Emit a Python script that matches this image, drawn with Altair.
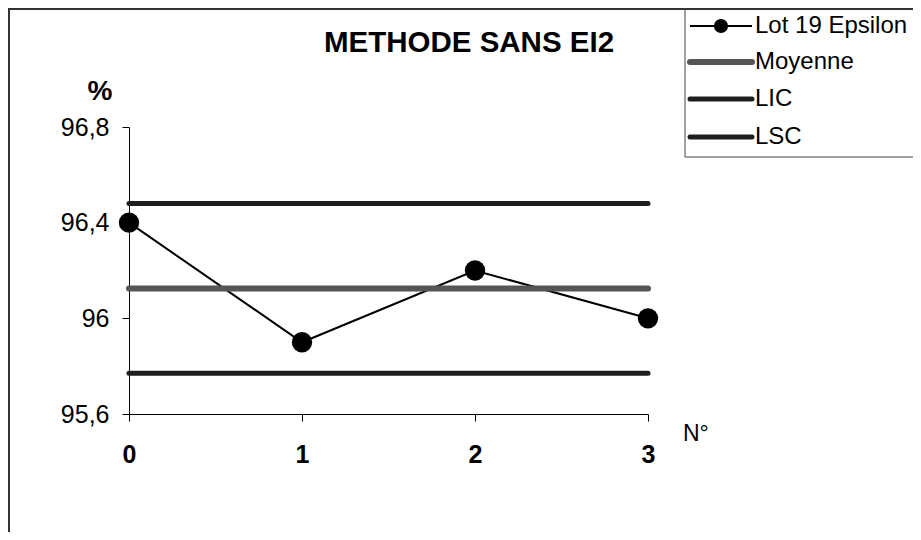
import altair as alt
import pandas as pd

# ---- data ----
n_values = [0, 1, 2, 3]
lot_values = [96.4, 95.9, 96.2, 96.0]
moyenne = 96.125
lic = 95.77
lsc = 96.48
series_names = ["Lot 19 Epsilon", "Moyenne", "LIC", "LSC"]
y_ticks = [95.6, 96.0, 96.4, 96.8]
x_ticks = [0, 1, 2, 3]
title_text = "METHODE SANS EI2"
y_unit = "%"
x_unit = "N°"

FONT = "Liberation Sans"
W, H = 519, 287

df = pd.DataFrame({"n": n_values, "v": lot_values})
one = pd.DataFrame({"_": [0]})

x_scale = alt.Scale(domain=[min(x_ticks), max(x_ticks)], nice=False, zero=False)
y_scale = alt.Scale(domain=[min(y_ticks), max(y_ticks)], nice=False, zero=False)

x_axis = alt.Axis(values=x_ticks, format="d", title=None, grid=False, tickSize=7,
                  labelPadding=21, labelFontSize=25, labelFontWeight="bold",
                  labelFlush=False, labelOverlap=False,
                  labelFont=FONT, labelColor="black", domainColor="black",
                  tickColor="black", domainWidth=1, tickWidth=1)
y_axis = alt.Axis(values=y_ticks,
                  labelExpr="replace(format(datum.value, '.1~f'), '.', ',')",
                  title=None, grid=False, tickSize=7, labelPadding=13,
                  labelFlush=False, labelOverlap=False,
                  labelFontSize=25, labelFont=FONT, labelColor="black",
                  domainColor="black", tickColor="black", domainWidth=1, tickWidth=1)

line = alt.Chart(df).mark_line(color="black", strokeWidth=2).encode(
    x=alt.X("n:Q", scale=x_scale, axis=x_axis),
    y=alt.Y("v:Q", scale=y_scale, axis=y_axis),
)
points = alt.Chart(df).mark_circle(color="black", size=415, opacity=1).encode(
    x=alt.X("n:Q", scale=x_scale),
    y=alt.Y("v:Q", scale=y_scale),
)

hl_specs = [(moyenne, "#555555", 6), (lic, "#1e1e1e", 5), (lsc, "#1e1e1e", 5)]
hlines = []
for val, col, sw in hl_specs:
    dfh = pd.DataFrame({"x0": [min(n_values)], "x1": [max(n_values)], "y": [val]})
    hlines.append(
        alt.Chart(dfh).mark_rule(color=col, strokeWidth=sw, strokeCap="round").encode(
            x=alt.X("x0:Q", scale=x_scale), x2="x1:Q", y=alt.Y("y:Q", scale=y_scale)
        )
    )

def txt(text, x, y, size, weight="normal", align="left", baseline="alphabetic"):
    return alt.Chart(one).mark_text(font=FONT, fontSize=size, fontWeight=weight,
                                    align=align, baseline=baseline, color="black").encode(
        x=alt.value(x), y=alt.value(y), text=alt.value(text))

def rule(x1, x2, y1, y2, color, sw, cap="butt"):
    return alt.Chart(one).mark_rule(color=color, strokeWidth=sw, strokeCap=cap).encode(
        x=alt.value(x1), x2=alt.value(x2), y=alt.value(y1), y2=alt.value(y2))

deco = [
    txt(title_text, 340, -75, 29.5, "bold", "center"),
    txt(y_unit, -29, -27, 28, "bold", "center"),
    txt(x_unit, 554, 314, 23, "normal", "left"),
    # outer frame
    rule(-120, -120, -119, 405, "#333333", 2),
    rule(-120, 784, -118, -118, "#333333", 2),
    # legend box
    rule(556, 556, -119, 30, "#444444", 1),
    rule(556, 784, 30, 30, "#444444", 1),
]

legend_rows = [-101, -65, -28, 10]
legend_styles = [("black", 2), ("#555555", 6), ("#1e1e1e", 5), ("#1e1e1e", 5)]
legend = []
for name, ry, (col, sw) in zip(series_names, legend_rows, legend_styles):
    legend.append(rule(561, 623, ry, ry, col, sw, "round" if sw > 2 else "butt"))
    legend.append(txt(name, 626, ry, 24, "normal", "left", "middle"))
legend.append(alt.Chart(one).mark_circle(color="black", size=200, opacity=1).encode(
    x=alt.value(592), y=alt.value(legend_rows[0])))

chart = alt.layer(line, *hlines, points, *deco, *legend).properties(
    width=W, height=H,
    padding={"left": 121, "top": 119, "right": 265, "bottom": 118},
    autosize=alt.AutoSizeParams(type="none"),
    background="white",
).configure_view(stroke=None)

chart.save("out.html", embed_options={"renderer": "svg", "actions": False})
